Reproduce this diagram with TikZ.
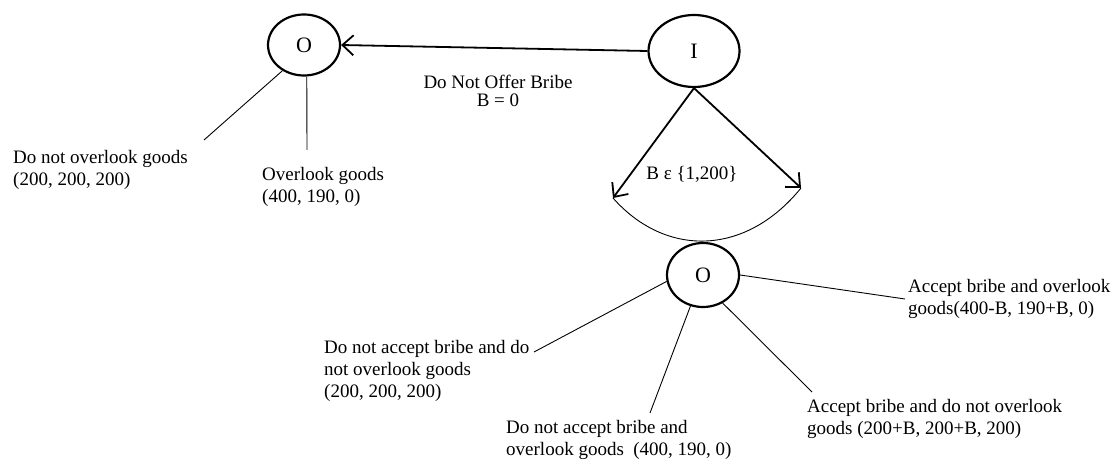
\documentclass[tikz,border=0pt]{standalone}
\usepackage{fontspec}
\setmainfont{Liberation Serif}
\usetikzlibrary{shapes.geometric,arrows.meta}
\tikzset{
  player/.style={draw, ellipse, line width=2.2pt, inner sep=0pt, font=\fontsize{22}{24}\selectfont},
  thickarrow/.style={line width=1.8pt, -{Straight Barb[length=11pt,width=20pt,line width=1.8pt]}},
  thinline/.style={line width=0.9pt},
  lbl/.style={inner sep=0pt, align=left, anchor=north west},
}
\begin{document}
\begin{tikzpicture}[x=1pt,y=-1pt, font=\fontsize{19}{22}\selectfont]
\useasboundingbox (0,0) rectangle (1115,462);
% players
\node[player, minimum width=72pt, minimum height=61pt] (O1) at (304,45) {O};
\node[player, minimum width=91pt, minimum height=72pt] (I) at (694,51) {I};
\node[player, minimum width=72pt, minimum height=64pt] (O2) at (703,275) {O};
% coordinates
\coordinate (lt) at (613,198);
\coordinate (rt) at (801,188);
\coordinate (e1) at (204,140);
\coordinate (e2) at (307,150);
\coordinate (e5) at (905,299);
\coordinate (e6) at (534,352);
\coordinate (e7) at (650,413);
\coordinate (e8) at (812,392);
% arrows
\draw[thickarrow] (I.west) -- (O1.east);
\draw[thickarrow] (I.south) -- (lt);
\draw[thickarrow] (I.south) -- (rt);
\draw[thinline] (lt) .. controls (665,257) and (745,257) .. (rt);
% branches
\draw[thinline] (O1.230) -- (e1);
\draw[thinline] (O1.275) -- (e2);
\draw[thinline] (O2.0) -- (e5);
\draw[thinline] (O2.190) -- (e6);
\draw[thinline] (O2.248) -- (e7);
\draw[thinline] (O2.305) -- (e8);
% labels
\node[lbl] (t1) at (13,150) {Do not overlook goods\\(200, 200, 200)};
\node[lbl] (t2) at (262,167) {Overlook goods\\(400, 190, 0)};
\node[inner sep=0pt, align=center, anchor=north, font=\fontsize{19}{18}\selectfont] (t3) at (498,75) {Do Not Offer Bribe\\B = 0};
\node[inner sep=0pt] (t4) at (692,174) {B ε \{1,200\}};
\node[lbl] (t5) at (908,279) {Accept bribe and overlook\\goods(400-B, 190+B, 0)};
\node[lbl] (t6) at (324,340) {Do not accept bribe and do\\not overlook goods\\(200, 200, 200)};
\node[lbl] (t7) at (506,420) {Do not accept bribe and\\overlook goods\ \ (400, 190, 0)};
\node[lbl] (t8) at (807,399) {Accept bribe and do not overlook\\goods (200+B, 200+B, 200)};
\end{tikzpicture}
\end{document}
